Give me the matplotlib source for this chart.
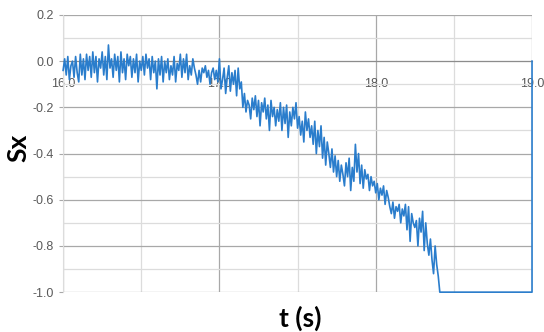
import numpy as np
import matplotlib
matplotlib.use("Agg")
import matplotlib.pyplot as plt
from matplotlib.ticker import MultipleLocator

plt.rcParams["font.family"] = ["Liberation Sans Narrow", "Liberation Sans", "DejaVu Sans"]

# sampled signal, 16.00 .. 18.40 s every 0.01 s
t_start, dt = 16.0, 0.01
sx = [
    -0.04, 0.01, -0.06, 0.02, -0.08, -0.02, 0.00, -0.07, 0.02, -0.05,
    -0.09, 0.03, -0.06, 0.01, -0.08, 0.03, -0.04, 0.02, -0.07, 0.04,
    -0.05, 0.02, -0.09, 0.01, -0.03, 0.04, -0.06, 0.02, -0.08, 0.07,
    -0.03, 0.01, -0.07, 0.03, -0.04, 0.02, -0.09, 0.04, -0.05, 0.01,
    -0.08, 0.03, -0.02, 0.02, -0.07, 0.01, -0.05, 0.03, -0.09, 0.00,
    -0.04, 0.02, -0.06, 0.03, -0.03, 0.01, -0.08, 0.02, -0.05, 0.00,
    -0.12, 0.01, -0.06, 0.02, -0.09, 0.00, -0.05, 0.01, -0.08, -0.02,
    -0.06, 0.02, -0.09, -0.01, -0.04, 0.03, -0.07, 0.01, -0.05, 0.03,
    -0.08, -0.02, -0.06, 0.01, -0.03, -0.06, -0.10, -0.04, -0.09, -0.03,
    -0.05, -0.02, -0.07, -0.04, -0.10, -0.05, -0.03, -0.08, -0.04, -0.09,
    0.01, -0.12, -0.08, -0.03, -0.14, -0.07, -0.02, -0.13, -0.05, -0.10,
    -0.04, -0.15, -0.03, -0.12, -0.09, -0.20, -0.14, -0.22, -0.17, -0.19,
    -0.25, -0.16, -0.21, -0.15, -0.24, -0.17, -0.28, -0.18, -0.22, -0.16,
    -0.25, -0.19, -0.30, -0.17, -0.24, -0.20, -0.28, -0.21, -0.26, -0.18,
    -0.30, -0.20, -0.27, -0.19, -0.33, -0.22, -0.28, -0.20, -0.25, -0.18,
    -0.29, -0.24, -0.32, -0.26, -0.35, -0.22, -0.30, -0.25, -0.33, -0.28,
    -0.36, -0.26, -0.40, -0.30, -0.37, -0.28, -0.42, -0.33, -0.45, -0.35,
    -0.40, -0.46, -0.38, -0.48, -0.41, -0.50, -0.43, -0.52, -0.45, -0.49,
    -0.54, -0.44, -0.50, -0.42, -0.56, -0.46, -0.52, -0.36, -0.48, -0.40,
    -0.53, -0.45, -0.55, -0.47, -0.51, -0.49, -0.56, -0.50, -0.54, -0.52,
    -0.57, -0.53, -0.60, -0.55, -0.58, -0.54, -0.62, -0.56, -0.59, -0.63,
    -0.66, -0.61, -0.68, -0.63, -0.65, -0.62, -0.70, -0.64, -0.67, -0.62,
    -0.73, -0.63, -0.78, -0.66, -0.70, -0.72, -0.69, -0.80, -0.68, -0.74,
    -0.65, -0.82, -0.70, -0.79, -0.84, -0.77, -0.86, -0.92, -0.80, -0.88,
    -0.93,
]
# tail: saturated at -1.0, then reset to 0 at 19.0
t_tail = [18.41, 19.0, 19.0]
sx_tail = [-1.0, -1.0, 0.0]

t = list(np.round(t_start + dt * np.arange(len(sx)), 2)) + t_tail
y = sx + sx_tail

LINE = "#2a7dcc"
MAJ = "#a8a8a8"
MIN = "#dcdcdc"
TXT = "#595959"

fig = plt.figure(figsize=(5.44, 3.32), dpi=100)
ax = fig.add_axes([0.116, 0.120, 0.862, 0.835])

ax.plot(t, y, color=LINE, lw=1.2, zorder=3, clip_on=False)

ax.set_xlim(16.0, 19.0)
ax.set_ylim(-1.0, 0.2)
ax.xaxis.set_major_locator(MultipleLocator(1.0))
ax.xaxis.set_minor_locator(MultipleLocator(0.5))
ax.yaxis.set_major_locator(MultipleLocator(0.2))
ax.yaxis.set_minor_locator(MultipleLocator(0.1))
ax.grid(which="major", color=MAJ, lw=0.9, zorder=0)
ax.grid(which="minor", color=MIN, lw=0.9, zorder=0)
ax.set_axisbelow(True)

for s in ["top", "right"]:
    ax.spines[s].set_visible(False)
ax.spines["left"].set_color(MIN)
ax.spines["bottom"].set_position(("data", 0))
ax.spines["bottom"].set_color("#8c8c8c")

ax.xaxis.set_major_formatter(plt.FuncFormatter(lambda v, p: f"{v:.1f}"))
ax.yaxis.set_major_formatter(plt.FuncFormatter(lambda v, p: f"{v:.1f}"))
ax.tick_params(axis="x", which="both", length=0, pad=12, labelsize=9, labelcolor=TXT)
ax.tick_params(axis="y", which="major", length=3, color=MAJ, pad=4, labelsize=9, labelcolor=TXT)
ax.tick_params(axis="y", which="minor", length=0)

ax.set_ylabel("Sx", fontsize=19, fontweight="bold", family=["Lato", "DejaVu Sans"], color="black")
ax.yaxis.set_label_coords(-0.07, 0.52)
ax.text(0.505, -0.095, "t (s)", transform=ax.transAxes, ha="center", va="center",
        fontsize=19, fontweight="bold", family=["Lato", "DejaVu Sans"])

fig.savefig("out.png", dpi=100)
